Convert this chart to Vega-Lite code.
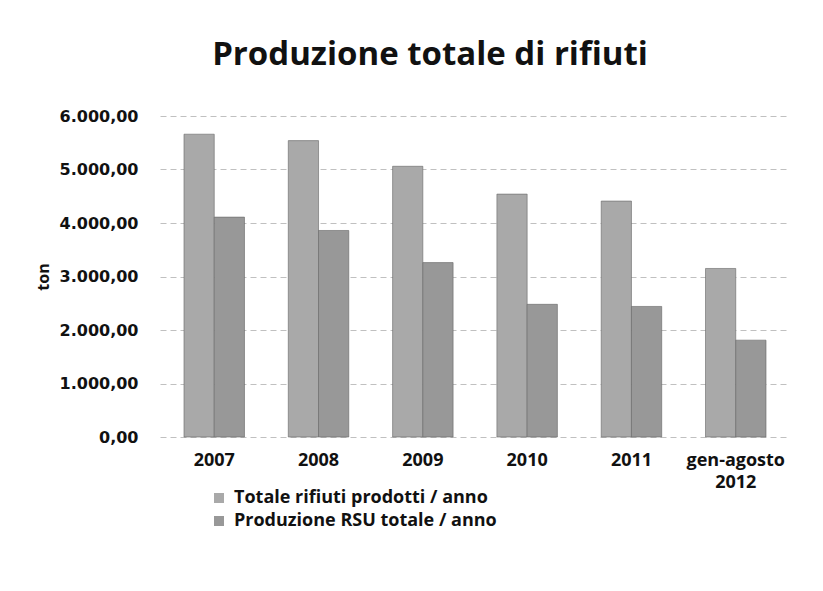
{
  "$schema": "https://vega.github.io/schema/vega-lite/v6.json",
  "autosize": "none",
  "width": 630,
  "height": 321,
  "padding": {"left": 160, "top": 116, "right": 33, "bottom": 154},
  "background": "white",
  "config": {
    "locale": {"number": {"decimal": ",", "thousands": ".", "grouping": [3], "currency": ["€", ""]}},
    "view": {"stroke": null}
  },
  "title": {
    "text": "Produzione totale di rifiuti",
    "font": "Open Sans",
    "fontSize": 33,
    "fontWeight": "bold",
    "color": "#111111",
    "anchor": "middle",
    "dx": -45,
    "offset": 36
  },
  "data": {
    "values": [
      {"periodo": "2007", "serie": "Totale rifiuti prodotti / anno", "ton": 5660},
      {"periodo": "2007", "serie": "Produzione RSU totale / anno", "ton": 4110},
      {"periodo": "2008", "serie": "Totale rifiuti prodotti / anno", "ton": 5540},
      {"periodo": "2008", "serie": "Produzione RSU totale / anno", "ton": 3860},
      {"periodo": "2009", "serie": "Totale rifiuti prodotti / anno", "ton": 5060},
      {"periodo": "2009", "serie": "Produzione RSU totale / anno", "ton": 3260},
      {"periodo": "2010", "serie": "Totale rifiuti prodotti / anno", "ton": 4540},
      {"periodo": "2010", "serie": "Produzione RSU totale / anno", "ton": 2480},
      {"periodo": "2011", "serie": "Totale rifiuti prodotti / anno", "ton": 4410},
      {"periodo": "2011", "serie": "Produzione RSU totale / anno", "ton": 2440},
      {"periodo": "gen-agosto 2012", "serie": "Totale rifiuti prodotti / anno", "ton": 3150},
      {"periodo": "gen-agosto 2012", "serie": "Produzione RSU totale / anno", "ton": 1810}
    ]
  },
  "mark": {"type": "bar", "stroke": "#666666", "strokeWidth": 0.6},
  "encoding": {
    "x": {
      "field": "periodo",
      "type": "nominal",
      "sort": null,
      "title": null,
      "scale": {"paddingInner": 0.42, "paddingOuter": 0.23},
      "axis": {
        "labelAngle": 0,
        "labelFont": "Open Sans",
        "labelFontSize": 18,
        "labelFontWeight": "bold",
        "labelColor": "#111111",
        "labelPadding": 14,
        "labelLineHeight": 22,
        "ticks": false,
        "domain": false,
        "labelExpr": "datum.value == 'gen-agosto 2012' ? ['gen-agosto', '2012'] : datum.value"
      }
    },
    "xOffset": {
      "field": "serie",
      "type": "nominal",
      "sort": ["Totale rifiuti prodotti / anno", "Produzione RSU totale / anno"]
    },
    "y": {
      "field": "ton",
      "type": "quantitative",
      "title": "ton",
      "scale": {"domain": [0, 6000]},
      "axis": {
        "values": [0, 1000, 2000, 3000, 4000, 5000, 6000],
        "format": ",.2f",
        "labelFont": "DejaVu Sans",
        "labelFontSize": 16,
        "labelFontWeight": "bold",
        "labelColor": "#111111",
        "labelPadding": 22,
        "ticks": false,
        "domain": false,
        "grid": true,
        "gridColor": "#b0b0b0",
        "gridDash": [6, 4],
        "gridWidth": 0.8,
        "titleFont": "Open Sans",
        "titleFontSize": 16,
        "titleFontWeight": "bold",
        "titleColor": "#111111",
        "titlePadding": 8
      }
    },
    "color": {
      "field": "serie",
      "type": "nominal",
      "sort": ["Totale rifiuti prodotti / anno", "Produzione RSU totale / anno"],
      "scale": {"range": ["#a9a9a9", "#989898"]},
      "legend": {
        "title": null,
        "orient": "none",
        "legendX": 50,
        "legendY": 373,
        "direction": "vertical",
        "symbolType": "square",
        "symbolSize": 100,
        "symbolStrokeWidth": 0,
        "labelFont": "Open Sans",
        "labelFontSize": 18,
        "labelFontWeight": "bold",
        "labelColor": "#111111",
        "labelLimit": 0,
        "rowPadding": 5,
        "labelOffset": 6
      }
    }
  }
}
